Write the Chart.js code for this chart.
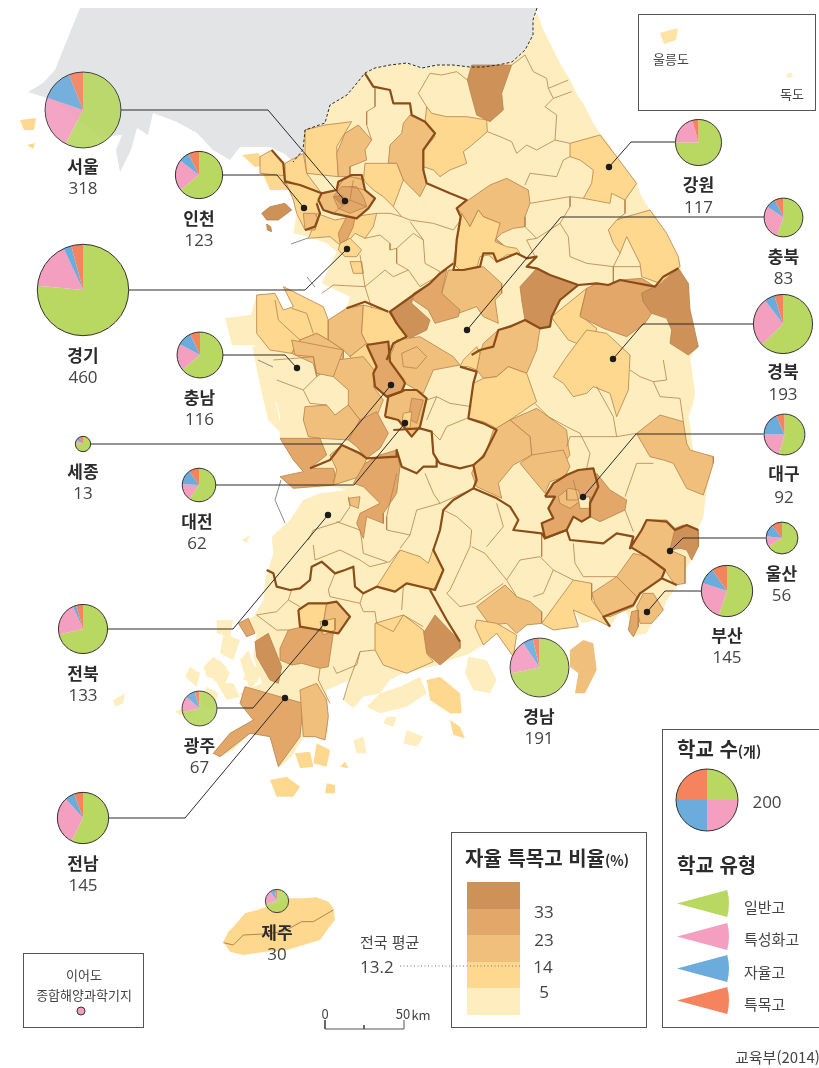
<!DOCTYPE html>
<html lang="ko">
<head>
<meta charset="utf-8">
<title>자율 특목고 비율</title>
<script src="https://cdn.jsdelivr.net/npm/chart.js@4/dist/chart.umd.js"></script>
<style>
  html, body { margin: 0; padding: 0; background: #fff; }
  #page { position: relative; width: 819px; height: 1068px; overflow: hidden; font-family: "Noto Sans CJK KR", sans-serif; color: #333; }
  #page canvas { position: absolute; }
  .over { opacity: 0.92; }
  .t { position: absolute; white-space: nowrap; transform: translate(-50%, -50%); line-height: 1; }
  .l { transform: translate(0, -50%); }
  .name { font-weight: 700; font-size: 17px; color: #2b2b2b; }
  .num { font-family: "Open Sans", sans-serif; font-size: 17px; color: #444; }
  .box { position: absolute; border: 1px solid #555; box-sizing: border-box; }
  .head { font-weight: 700; font-size: 20px; color: #2b2b2b; }
  .head small { font-size: 14px; }
  .small { font-size: 13px; color: #444; }
  .leg { font-size: 15px; color: #444; }
  .src { font-size: 15px; color: #444; }
</style>
</head>
<body>
<div id="page"><canvas id="map" width="819" height="1068" style="left:0;top:0"></canvas></div>
<script>
// 시도별 학교 수 (일반고, 특성화고, 자율고, 특목고)
const regions = ["서울","인천","경기","충남","세종","대전","전북","광주","전남","제주","강원","충북","경북","대구","울산","부산","경남"];
const totals  = [318,123,460,116,13,62,133,67,145,30,117,83,193,92,56,145,191];
const general = [183,79,352,74,10,37,95,48,83,21,88,46,121,50,37,80,137];
const special = [72,26,76,22,1,10,29,10,45,6,24,24,52,19,6,36,36];
const autonomous = [44,9,13,12,1,9,3,6,9,2,0,7,11,17,7,15,11];
const purpose = [19,9,19,8,1,6,6,3,8,1,5,6,9,6,6,14,7];

const typeNames  = ["일반고","특성화고","자율고","특목고"];
const typeColors = ["#B8D862","#F49EC0","#6CACDD","#F5835E"];

// 자율 특목고 비율 단계
const bandColors = ["#FEEEBF","#FED88F","#F1BF7C","#E2A769","#CE9259"];
const bandTicks  = ["5","14","23","33"];
const nationalAvg = 13.2;

// 그림에서 읽은 파이 위치, 지시선 꺾임점
const pieX = [83,199,83,199.5,83,199,83,199.5,83,277,698.5,783.5,783,784,781.5,727,539];
const pieY = [110,175,290,355,444,485,629,708,818,901,142,217,324,434,538,591,667];
const bendX = [268,277,305,285,342,354,233,253,185,null,631,561,643,636,683,665,null];
const dotX = [345,304,347,297,391,405,328,325,285,null,609,467,613,583,670,647,null];
const dotY = [201,208,249,368,385,423,515,623,698,null,167,330,359,497,551,612,null];
const nameY = [165,217,354,396,470,520,672,744,862,931,183,255,370,472,572,634,715];
const numY  = [187,239,376,418,492,542,694,766,884,953,206,277,393,496,594,656,737];
const overMap = ["서울","광주","제주","경남"];

// 지도 윤곽: 북부 조각 (원점 250,0 / 3배), 남부 조각 (원점 220,340 / 3배)
const mainlandNorth = [65,450,105,490,130,485,160,460,162,390,225,372,240,315,290,285,345,220,375,205,420,195,470,190,515,205,560,195,610,195,660,200,745,195,785,185,825,150,850,105,850,60,862,40,880,90,900,130,930,190,960,240,985,290,1000,310,1030,370,1050,400,1075,430,1100,470,1130,510,1160,550,1175,590,1200,630,1225,670,1250,700,1285,770,1300,830,1320,860,1315,900,1330,960,1345,1040,1320,1070,1330,1140];
const mainlandSouth = [1420,120,1425,160,1420,190,1405,230,1410,250,1420,340,1479,345,1479,370,1460,450,1450,530,1435,565,1440,610,1415,660,1395,690,1375,735,1340,780,1330,810,1295,850,1280,880,1235,890,1225,830,1210,800,1170,860,1130,840,1085,850,1060,810,1075,860,1040,855,1000,870,960,850,900,860,880,900,890,950,830,880,790,915,740,945,690,960,660,975,610,985,550,1000,510,1020,480,1060,430,1070,400,1105,370,1080,390,1020,320,1050,325,1180,250,1190,215,1250,180,1280,150,1190,90,1180,40,1230,0,1250,-20,1240,30,1180,100,1140,60,1060,125,1030,100,950,110,880,60,850,100,830,130,780,135,720,160,640,155,590,210,540,250,480,300,460,380,450,340,440,220,445,180,410,250,395,220,360,180,295,180,230,170,190,130,140,115,60,100,0];
const mainlandWest = [20,1000,0,960,20,885,75,880,100,930,130,920,100,860,220,920,235,960,290,920,300,890,215,850,260,755,230,730,175,710,130,700,140,640,130,600,150,550,105,550,30,520,30,470,65,450];
const greyNorth = [80,8,537,8,533,20,533,35,525,50,512,62,498,65,483,67,470,67,453,65,437,65,422,68,407,63,390,65,375,68,365,73,357,83,347,95,330,105,325,123,305,130,303,150,293,162,285,154,270,147,240,147,230,160,213,150,197,133,177,122,153,113,148,135,137,128,131,150,120,172,116,150,122,135,100,137,53,100,28,92,43,83,55,70,63,50];
const dmzLine = [537,8,533,20,533,35,525,50,512,62,498,65,483,67,470,67,453,65,437,65,422,68,407,63,390,65,375,68,365,73,357,83,347,95,330,105,325,123,305,130,303,150,293,162];

// [단계, 좌표]
const northShapes = [
  [4,[665,195,785,195,755,280,760,330,720,365,680,345,665,290,652,240]],
  [1,[530,320,545,340,590,350,650,350,710,360,712,395,660,440,640,455,650,490,600,510,570,530,550,510,520,500,520,450,555,410,525,365]],
  [2,[480,345,525,365,555,400,520,450,520,510,530,550,510,590,490,570,460,540,440,490,415,490,420,435,455,400,460,370]],
  [1,[345,490,410,490,440,490,460,540,430,620,400,590,370,570,340,540]],
  [1,[165,390,225,375,305,365,260,440,265,530,170,520,165,470]],
  [2,[285,400,325,375,365,420,345,450,350,480,300,500,300,530,265,530,260,460]],
  [1,[30,470,65,450,100,490,105,550,150,555,135,530,30,520]],
  [1,[105,490,160,460,170,520,215,580,150,555,105,550]],
  [1,[105,540,150,555,215,580,200,610,210,640,195,680,165,690,140,640,130,600]],
  [4,[35,640,60,620,105,610,125,630,85,660,50,660]],
  [4,[50,672,62,680,65,695,52,690]],
  [1,[200,640,255,660,310,650,380,640,370,680,345,715,315,700,290,730,270,735,240,710,175,715,195,670]],
  [2,[160,640,195,640,205,660,195,690,165,690]],
  [1,[270,730,300,715,335,750,320,770,285,770,265,750]],
  [1,[300,785,335,785,340,820,310,820]],
  [3,[290,650,315,650,310,680,290,720,270,730,265,700]],
  [2,[205,600,215,580,260,570,265,545,305,525,335,525,345,570,375,595,355,625,320,655,250,640,220,630]],
  [3,[250,590,275,560,320,560,340,590,350,620,300,640,265,625]],
  [4,[252,590,275,585,295,605,275,615]],
  [2,[620,625,655,600,720,555,770,535,835,570,840,610,825,650,825,680,790,685,755,700,735,720,760,735,720,700,750,670,700,650,685,630,660,680,635,640]],
  [1,[635,640,660,680,685,630,700,650,750,670,735,725,770,740,800,745,810,760,770,765,740,785,715,765,690,770,680,805,630,810,610,790,620,730,632,660]],
  [1,[960,430,1050,405,1100,470,1160,550,1125,600,1085,580,1080,610,1000,595,1025,550,1030,510,990,480,960,470]],
  [1,[1200,630,1250,700,1285,770,1290,800,1230,850,1175,830,1170,790,1130,710,1110,760,1090,730,1075,690,1100,660,1130,650]],
  [2,[575,880,595,810,640,810,700,800,755,850,755,880,735,900,745,970,700,950,680,920,625,940]],
  [3,[490,880,540,850,575,820,590,810,575,880,630,930,625,950,555,970,535,930,490,900]],
  [4,[420,935,490,885,485,910,540,960,530,990,480,1015,460,1000,440,970]],
  [4,[810,860,860,805,900,825,985,855,930,900,905,950,900,975,870,985,825,960,815,900]],
  [1,[905,950,1010,865,990,945,1040,985,1030,1040,980,1030,955,1020,910,960]],
  [3,[1010,865,1040,850,1075,855,1110,840,1175,835,1215,860,1175,880,1180,905,1205,940,1185,970,1130,1010,1060,985,990,950]],
  [4,[1175,880,1235,850,1285,805,1315,850,1320,930,1345,1040,1315,1065,1260,1030,1265,990,1250,955,1205,940,1180,905]],
  [1,[20,885,75,880,100,930,130,920,100,860,220,920,235,960,235,1020,200,1000,150,1020,125,1060,60,1050,20,1000]],
  [2,[235,960,290,925,340,915,335,1000,350,1030,300,1070,280,1050,235,1020]],
  [1,[340,915,415,935,440,970,470,1010,430,1030,410,1050,350,1030,335,1000]],
  [1,[300,1070,350,1030,410,1050,410,1090,370,1110,320,1100]],
  [2,[125,1060,150,1020,200,1000,235,1020,280,1050,280,1075,200,1130,190,1090]]
];
const southShapes = [
  [1,[1000,110,1040,50,1100,-30,1160,-20,1230,45,1225,150,1190,230,1170,160,1120,140,1100,160,1060,170,1030,130]],
  [2,[780,40,790,10,835,-30,915,-60,960,-35,950,30,920,100,865,80,830,110,790,115,770,90]],
  [1,[730,60,770,20,780,40,770,90,745,80,720,80]],
  [1,[745,235,760,130,790,115,830,110,865,80,920,100,950,185,870,240,830,265,790,245]],
  [2,[870,240,950,205,985,230,1040,270,1045,320,1050,345,1030,370,935,345,930,290]],
  [2,[935,345,1030,330,1050,380,1035,410,990,425,975,460,900,370]],
  [2,[765,375,800,330,820,270,870,240,930,290,935,345,880,375,835,430,845,475,770,440,755,400]],
  [3,[975,470,1000,430,1040,405,1075,390,1120,385,1135,440,1110,490,1110,530,1085,545,1060,530,1040,570,975,595,965,550,1000,535,985,505,1005,470]],
  [2,[1015,470,1045,445,1075,450,1085,480,1050,505,1020,490]],
  [0,[1075,475,1110,470,1110,505,1080,505]],
  [3,[1130,400,1170,450,1220,480,1215,510,1140,545,1110,530,1110,490,1135,440]],
  [2,[1250,280,1320,225,1390,245,1400,310,1410,330,1480,350,1480,370,1450,465,1400,445,1360,370,1330,360,1290,350,1255,290]],
  [2,[1230,620,1265,570,1280,540,1340,540,1370,570,1350,630,1395,650,1395,730,1365,735,1335,690,1280,650]],
  [4,[1365,565,1390,555,1435,570,1435,620,1415,660,1400,630,1380,625,1350,630]],
  [2,[1190,710,1240,640,1280,650,1335,690,1325,715,1250,770]],
  [2,[1115,760,1190,710,1250,770,1240,800,1170,830,1150,830,1125,790]],
  [2,[1270,760,1300,760,1330,810,1295,850,1260,850,1250,800]],
  [3,[1235,815,1255,810,1255,860,1240,890,1225,870]],
  [2,[770,800,855,735,890,770,930,785,965,815,965,850,920,855,890,880,860,850,810,855]],
  [1,[965,850,1060,720,1115,730,1115,780,1150,830,1170,860,1130,840,1060,810,1075,860,1000,870]],
  [1,[770,840,830,850,890,885,880,950,830,880,790,915,765,860]],
  [4,[610,880,645,825,720,905,720,925,660,975,620,940]],
  [1,[465,850,550,825,610,870,620,940,640,965,560,1000,490,975,465,930]],
  [1,[470,740,540,630,600,650,625,670,640,625,670,690,640,750,560,730,525,755]],
  [4,[105,905,145,880,185,980,175,1030,150,1020,110,950]],
  [3,[205,870,250,860,305,875,340,880,325,980,300,985,245,970,215,975,180,960,180,925]],
  [1,[235,810,265,790,320,790,310,850,300,870,240,860]],
  [2,[320,790,350,785,390,830,355,880,300,870,310,850]],
  [1,[300,845,345,835,345,870,310,885]],
  [3,[55,850,85,835,105,880,80,890]],
  [3,[60,1090,75,1040,180,1070,250,1090,240,1190,175,1280,150,1190,90,1180,0,1250,-20,1240,30,1180,100,1140]],
  [2,[240,1050,290,1030,320,1080,325,1130,315,1200,285,1190,250,1190]],
  [2,[340,110,350,60,430,50,470,100,460,140,490,180,470,230,420,240,385,195,385,150]],
  [2,[255,200,320,195,345,225,385,195,420,240,385,300,300,295,265,290,250,240]],
  [3,[385,300,420,240,470,215,505,280,480,325,440,355,410,320]],
  [3,[180,295,300,295,320,345,270,385,340,385,345,400,340,435,220,445,180,410,250,395,220,360]],
  [2,[330,345,365,315,440,355,420,410,340,435,350,390]],
  [2,[215,0,370,30,340,110,290,100,280,50,225,45]],
  [3,[440,15,505,5,510,65,550,120,555,130,545,155,500,170,465,140,460,100,470,80]],
  [2,[495,230,505,170,555,150,590,150,620,175,600,260,575,290,535,240]],
  [3,[575,175,610,180,590,250,565,235]],
  [1,[550,220,575,215,570,265,545,255]],
  [2,[510,50,530,0,600,-10,700,50,720,75,640,90,610,160,590,150,555,130,510,65]],
  [2,[545,40,590,20,620,50,590,85,550,80]],
  [3,[530,330,540,380,530,460,490,520,490,550,440,530,430,595,410,550,420,520,480,490,430,440,400,430,435,370,480,345]],
  [2,[385,475,420,470,415,505,390,495]]
];
// 섬 (남부 조각 기준)
const islandsPale = [
  [60,960,85,930,105,985,80,1020],[0,960,30,1000,10,1040,-20,1020],[-40,1040,-5,1060,-20,1110,-60,1090],[-90,980,-60,1000,-70,1040,-105,1010],
  [80,1010,105,1030,90,1060],[480,1060,540,1040,600,1010,620,1060,560,1100,480,1120,440,1100],
  [745,950,800,960,830,1020,810,1060,760,1050,735,1000],[500,1130,530,1130,520,1160,490,1150],[560,1170,610,1190,590,1220,550,1210],
  [400,1200,430,1190,440,1240,410,1240],[1330,720,1350,740,1340,780,1320,760]];
const islandsOrange = [
  [620,1020,660,1010,720,1060,725,1120,690,1120,630,1080],[690,1140,720,1160,735,1195,700,1185],
  [150,1320,200,1310,240,1340,220,1370,170,1370],[320,1330,345,1335,345,1360,315,1360],
  [225,1240,270,1235,280,1280,240,1285],[290,1210,330,1230,320,1280,280,1270],[375,1265,385,1285,360,1280]];
const geoje = [1050,930,1090,900,1120,910,1130,990,1095,1060,1065,1060,1075,1000,1050,980];
// 서해안 섬 (원점 0,400 / 3배)
const islandsWestCoast = [
  [650,660,700,660,690,710,650,700],[670,700,720,720,700,780,660,760],[610,800,640,770,680,800,660,840,620,830],[650,850,700,850,720,890,680,900],
  [740,800,790,800,770,850,730,840],[340,900,375,880,370,910,345,920],[525,935,560,920,590,950,540,945],[725,420,750,405,740,430]];
// 충남 앞바다, 강화 주변 (화면 좌표)
const islandsPixel = [[225,318,258,314,258,345,232,345],[252,345,268,358,275,400,283,435,268,420,260,385],[255,300,262,292,258,320,250,318]];
const islandsPixelOrange = [[20,120,36,118,34,130,24,130],[27,145,35,143,33,149],[242,155,258,153,270,165,255,167],[262,172,290,165,292,190,270,190]];
// 제주 (원점 0,800 / 3배)
const jejuShape = [670,425,685,395,705,375,735,340,770,330,800,320,835,310,870,295,910,295,950,292,985,305,1000,325,1005,360,985,385,960,420,910,435,860,450,795,455,730,465,690,455];
const jejuLine = [670,428,700,435,730,405,790,402,850,395,905,365,940,365,1000,330];

const thinNorth = [
  [375,265,375,320,350,335,350,375,365,420],[530,320,505,280,540,220,575,225,620,215,652,240],[785,195,825,165,850,215,890,235,895,265,955,240],
  [895,265,910,295,965,275],[910,295,885,320,920,345,915,420,960,430],[712,395,750,410,785,425,800,460,830,435,860,450,915,420],
  [960,470,940,480,920,530,840,520,825,555],[840,610,960,590,960,620,930,670,860,715],[930,670,955,710,960,770,1010,790,1090,800,1090,850],
  [855,770,830,720,860,715,825,680],[1090,800,1110,760],[1170,800,1090,800],[1125,600,1125,640,1100,660],[1000,595,960,590],
  [345,540,300,530],[430,620,455,650,480,660,550,670,610,690,632,660],[480,665,520,720,525,790,570,815],[455,650,420,640,380,640],
  [345,715,390,705,420,730,420,750,440,745,490,700,520,720],[440,745,440,790,475,810,510,860,560,830],[330,765,345,860,405,810,430,830,475,810],
  [345,860,250,855,215,880],[345,860,365,925],[260,570,285,530],[300,560,345,570],[250,640,300,600,350,620],[300,600,310,540],
  [75,900,85,960,150,1020],[190,1000,170,940,125,925]
];
const thinSouth = [
  [160,60,225,55,280,50,290,110,250,150,170,120],[250,150,270,190,320,195],[385,470,390,500,360,545,280,570,265,600],[350,545,420,570,425,600],
  [280,615,285,660,360,630,420,660,450,680,510,665,540,630],[500,530,500,570,570,585,590,510,660,490],[425,600,430,640,500,665],[570,585,540,625],
  [615,400,640,460,660,490,750,450],[530,400,500,530],[620,180,650,170,690,190,755,200],[620,240,650,170],[680,260,660,300,635,275],[680,260,740,235],
  [110,825,170,815,205,780,215,750],[205,780,240,800],[205,870,170,870,110,825],[345,700,325,750,330,770,420,790,430,760],
  [420,790,430,815,465,815,470,850,520,875,550,825,610,860],[550,740,545,810],[465,930,420,935,410,975,350,1000,340,980],[300,985,295,1020,330,1090],
  [370,1080,385,1030,420,935],[670,510,710,530,755,570,750,620,690,750,680,760,720,800,765,790,850,730],[755,620,795,640,860,720,900,660,960,650,1000,690,1060,720],
  [830,490,850,560,800,620],[860,720,890,770],[965,580,965,650],[1060,610,1065,670,1090,710,1190,710],[1000,690,970,760,940,770],
  [945,190,985,230,1040,260,1080,280,1110,340,1100,385],[1040,320,1050,290,1190,290,1180,230,1130,140],[1250,280,1190,290],[1215,510,1240,575],
  [1215,470,1250,370,1300,370],[1330,60,1340,120,1300,125,1320,170,1380,175,1390,245],[1230,90,1260,110,1300,125],[1040,450,1040,480,1075,480,1060,420]
];
const thickNorth = [
  [345,220,370,260,420,270,430,310,480,310,485,345,525,365,555,400,520,450,520,510,530,550,600,580,650,600,620,625,632,650,620,720,615,790,610,810,640,810,690,800,700,760,730,760,740,785,800,760,830,775,860,770,830,800,860,805,900,825,985,855,1040,850,1075,855,1110,840,1215,860,1240,830,1285,805],
  [290,925,345,905,415,935],
  [610,790,570,820,540,850,490,885,420,935,440,970,470,1010,430,1030,410,1080],
  [985,855,930,900,905,950,900,980,870,985,825,960,780,980,745,990,730,1040,690,1050,665,1065],
  [205,600,215,580,260,570,265,545,305,525,335,525,345,570,375,595,355,625,320,655,250,640,220,630,205,600],
  [65,450,100,490,105,545,150,555,215,580],[200,610,210,640,195,680,165,690]
];
const thickSouth = [
  [720,80,770,95,760,130,745,235,790,250,830,270,820,290,800,330,790,350,760,375,770,420,760,445,700,480,670,510,660,570,640,630,670,690,645,750,560,730,525,755,470,740,430,760,405,740,400,680,375,690,345,700,305,665,275,680,270,720,240,745,210,750,170,740,160,700,140,690],
  [760,375,720,385,660,370,650,360,650,380,610,380,590,400,545,380,530,330,530,350,440,355,420,340,365,315,330,360,270,385],
  [520,270,600,265,635,275,640,340,655,365],
  [440,15,505,5,510,65,550,120,555,130,545,155,500,170,465,140,460,100,470,80,440,15],
  [495,230,505,170,555,150,590,150,620,175,600,260,575,290,535,240,495,230],
  [630,750,680,840,720,905],
  [760,445,830,475,870,500,895,540,880,570,965,580,975,595,1040,570,1050,600,1100,605,1150,610,1190,580,1240,590,1230,625,1265,570,1280,540,1340,545,1365,570,1400,555,1435,570],
  [1230,620,1280,650,1335,690,1325,715,1260,760,1240,795,1150,830,1170,860],[1325,715,1370,735],
  [235,810,265,790,320,790,350,785,390,830,355,880,300,870,240,860,235,810],
  [975,470,1000,430,1040,405,1075,390,1120,385,1135,440,1110,490,1110,530,1085,545,1060,530,1040,570,975,595,965,550,1000,535,985,505,1005,470,975,470]
];
const seaLines = [[291,244,308,238],[307,277,315,287],[281,480,275,500,285,523],[258,360,273,367]];

const ulleung = [660,33,678,28,676,40,664,44];
const dokdo = [786,74,792,73,793,77,788,78];

const toN = (a) => a.map((v, i) => i % 2 ? v / 3 : 250 + v / 3);
const toS = (a) => a.map((v, i) => i % 2 ? 340 + v / 3 : 220 + v / 3);
const toJ = (a) => a.map((v, i) => i % 2 ? 800 + v / 3 : v / 3);
const toW = (a) => a.map((v, i) => i % 2 ? 400 + v / 3 : v / 3);
const pts = (a) => { let r = []; for (let i = 0; i < a.length; i += 2) r.push({ x: a[i], y: a[i + 1] }); return r; };

function poly(flat, color, border, width) {
  let p = pts(flat);
  p.push(p[0]);
  return { data: p, showLine: true, fill: 'shape', backgroundColor: color, borderColor: border || color, borderWidth: width === undefined ? 0.8 : width, pointRadius: 0, tension: 0 };
}
function line(flat, color, width, dash) {
  return { data: pts(flat), showLine: true, fill: false, borderColor: color, borderWidth: width, borderDash: dash || [], pointRadius: 0, tension: 0, borderJoinStyle: 'round' };
}
function pieRadius(n) { return 2.13 * Math.sqrt(n); }

const thinColor = "#B6824A", thickColor = "#8C4C17", inkColor = "#2b2b2b";
let layers = [];
layers.push(poly(greyNorth, "#E3E4E6", "#E3E4E6", 0));
layers.push(poly([...toN(mainlandNorth), ...toS(mainlandSouth), ...toN(mainlandWest)], bandColors[0], bandColors[0], 0));
islandsPale.forEach((s) => layers.push(poly(toS(s), bandColors[0], null, 0)));
islandsOrange.forEach((s) => layers.push(poly(toS(s), bandColors[1], null, 0)));
layers.push(poly(toS(geoje), bandColors[2], null, 0));
islandsWestCoast.forEach((s) => layers.push(poly(toW(s), bandColors[0], null, 0)));
islandsPixel.forEach((s) => layers.push(poly(s, bandColors[0], null, 0)));
islandsPixelOrange.forEach((s) => layers.push(poly(s, bandColors[1], null, 0)));
northShapes.forEach((s) => layers.push(poly(toN(s[1]), bandColors[s[0]], thinColor)));
southShapes.forEach((s) => layers.push(poly(toS(s[1]), bandColors[s[0]], thinColor)));
layers.push(poly(toJ(jejuShape), bandColors[1], null, 0));
layers.push(line(toJ(jejuLine), thinColor, 1));
thinNorth.forEach((s) => layers.push(line(toN(s), thinColor, 0.8)));
thinSouth.forEach((s) => layers.push(line(toS(s), thinColor, 0.8)));
thickNorth.forEach((s) => layers.push(line(toN(s), thickColor, 2.2)));
thickSouth.forEach((s) => layers.push(line(toS(s), thickColor, 2.2)));
seaLines.forEach((s) => layers.push(line(s, "#8a8a8a", 1)));
layers.push(line(dmzLine, inkColor, 1, [3, 2]));
layers.push(poly(ulleung, "#FEE3A6", null, 0));
layers.push(poly(dokdo, bandColors[0], null, 0));

// 범례 색 띠
const bandTop = [988,962,935,909,882];
const bandBottom = [1015,988,962,935,909];
bandColors.forEach((c, i) => layers.push(poly([467, bandTop[i], 520, bandTop[i], 520, bandBottom[i], 467, bandBottom[i]], c, null, 0)));

// 지시선과 점
regions.forEach((n, i) => {
  if (dotX[i] === null) return;
  let r = pieRadius(totals[i]);
  let side = bendX[i] < pieX[i] ? -1 : 1;
  layers.push(line([pieX[i] + side * r, pieY[i], bendX[i], pieY[i], dotX[i], dotY[i]], inkColor, 1));
});
layers.push({ data: dotX.map((x, i) => ({ x: x, y: dotY[i] })).filter((p) => p.x !== null), showLine: false, pointRadius: 3.2, pointBackgroundColor: "#1c1c1c", pointBorderWidth: 0 });
// 전국 평균 점선
layers.push(line([400, 966, 520, 966], "#777", 1, [1, 2.5]));
// 축척
layers.push(line([325, 1020, 325, 1029, 404, 1029, 404, 1020], "#555", 1));
layers.push(line([364, 1025, 364, 1029], "#555", 1));

new Chart(document.getElementById('map'), {
  type: 'scatter',
  data: { datasets: layers.reverse() },
  options: {
    responsive: false, animation: false, events: [],
    layout: { padding: 0, autoPadding: false },
    plugins: { legend: { display: false }, tooltip: { enabled: false } },
    scales: { x: { type: 'linear', display: false, min: 0, max: 819 }, y: { type: 'linear', display: false, min: 0, max: 1068, reverse: true } }
  }
});

const page = document.getElementById('page');

const ringPlugin = {
  id: 'ring',
  afterDraw(chart) {
    let arc = chart.getDatasetMeta(0).data[0];
    let ctx = chart.ctx;
    ctx.save();
    ctx.strokeStyle = "#333";
    ctx.lineWidth = 1;
    ctx.beginPath();
    ctx.arc(arc.x, arc.y, arc.outerRadius, 0, Math.PI * 2);
    ctx.stroke();
    ctx.restore();
  }
};

function addPie(cx, cy, r, values, colors, cls) {
  let c = document.createElement('canvas');
  let size = Math.ceil(2 * r + 4);
  c.width = size; c.height = size;
  if (cls) c.className = cls;
  c.style.left = (cx - size / 2) + 'px';
  c.style.top = (cy - size / 2) + 'px';
  page.appendChild(c);
  new Chart(c, {
    type: 'pie',
    data: { labels: typeNames.slice(0, values.length), datasets: [{ data: values, backgroundColor: colors, borderWidth: 0 }] },
    options: { responsive: false, animation: false, events: [], layout: { padding: (size - 2 * r) / 2 }, plugins: { legend: { display: false }, tooltip: { enabled: false } } },
    plugins: [ringPlugin]
  });
}

function addText(txt, x, y, cls) {
  let d = document.createElement('div');
  d.className = 't ' + cls;
  d.style.left = x + 'px';
  d.style.top = y + 'px';
  d.innerHTML = txt;
  page.appendChild(d);
}
function addBox(x, y, w, h) {
  let d = document.createElement('div');
  d.className = 'box';
  d.style.cssText = 'left:' + x + 'px;top:' + y + 'px;width:' + w + 'px;height:' + h + 'px';
  page.appendChild(d);
}

addBox(638, 14, 178, 97);
addBox(23, 953, 121, 75);
addBox(451, 832, 196, 196);
addBox(662, 729, 170, 299);

regions.forEach((n, i) => {
  addPie(pieX[i], pieY[i], pieRadius(totals[i]), [general[i], special[i], autonomous[i], purpose[i]], typeColors, overMap.includes(n) ? 'over' : '');
  addText(n, pieX[i] - (n === "대전" ? 2 : 0), nameY[i], 'name');
  addText(totals[i], pieX[i] - (n === "대전" ? 2 : 0), numY[i], 'num');
});

// 범례: 학교 수
addPie(707, 800, 31, [50, 50, 50, 50], typeColors);
addText("200", 767, 801, 'num');
addText("학교 수<small>(개)</small>", 677, 749, 'l head');
addText("학교 유형", 677, 865, 'l head');

// 범례: 학교 유형 부채꼴
const wedgeY = [903,936,968,1000];
const textY = [906,938,971,1003];
typeNames.forEach((n, i) => {
  let c = document.createElement('canvas');
  c.width = 52; c.height = 27;
  c.style.left = '677px';
  c.style.top = (wedgeY[i] - 13.5) + 'px';
  page.appendChild(c);
  new Chart(c, {
    type: 'pie',
    data: { datasets: [{ data: [1], backgroundColor: typeColors[i], borderWidth: 0 }] },
    options: { responsive: false, animation: false, events: [], rotation: 75, circumference: 30, plugins: { legend: { display: false }, tooltip: { enabled: false } } }
  });
  addText(n, 744, textY[i], 'l leg');
});

addText("자율 특목고 비율<small>(%)</small>", 465, 858, 'l head');
const tickY = [991,966,939,911];
const tickX = [544,543,544,544];
bandTicks.forEach((t, i) => addText(t, tickX[i], tickY[i], 'num'));

addText("전국 평균", 360, 941, 'l leg');
addText(nationalAvg, 360, 966, 'l num');
addText("0", 325, 1013, 'small');
addText("50", 403, 1013, 'small');
addText("km", 421, 1014, 'small');
addText("울릉도", 653, 58, 'l small');
addText("독도", 780, 93, 'l small');
addText("이어도", 84, 974, 'small');
addText("종합해양과학기지", 84, 994, 'small');
addText("교육부(2014)", 735, 1056, 'l src');
addPie(81, 1011, 4, [1], ["#F49EC0"]);
</script>
</body>
</html>
